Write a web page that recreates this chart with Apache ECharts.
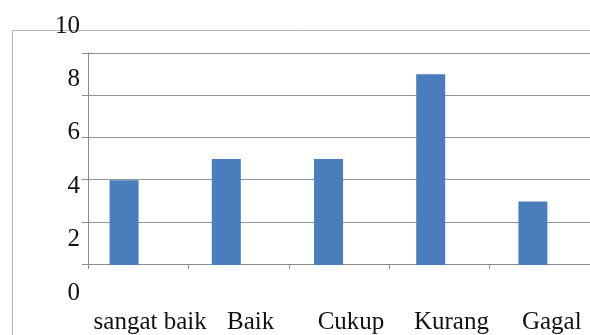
<!DOCTYPE html>
<html>
<head>
<meta charset="utf-8">
<script src="https://cdn.jsdelivr.net/npm/echarts@6/dist/echarts.min.js"></script>
<style>
  html, body { margin: 0; padding: 0; background: #fff; }
  #main { width: 590px; height: 335px; }
</style>
</head>
<body>
<div id="main"></div>
<script type="text/javascript">
  // kategori dan nilai
  var categories = ['sangat baik', 'Baik', 'Cukup', 'Kurang', 'Gagal'];
  var values = [4, 5, 5, 9, 3];
  var yMin = 0, yMax = 10, yStep = 2;

  var font = 'Liberation Serif, Times New Roman, serif';
  var myChart = echarts.init(document.getElementById('main'));

  var option = {
    animation: false,
    graphic: [
      {
        // outer chart border
        type: 'rect',
        shape: { x: 12.5, y: 30.5, width: 640, height: 400 },
        style: { fill: 'none', stroke: '#b4b4b4', lineWidth: 1 },
        z: -1
      }
    ],
    grid: [
      // axis lines, ticks, gridlines, category labels
      { left: 88, top: 53, width: 511, height: 212 },
      // bars
      { left: 73, top: 53, width: 511, height: 212 },
      // value labels
      { left: 88, top: 26, width: 511, height: 267 }
    ],
    xAxis: [
      {
        gridIndex: 0,
        type: 'category',
        data: categories,
        axisLine: { show: true, lineStyle: { color: '#8c8c8c', width: 1 } },
        axisTick: { show: true, length: 5, lineStyle: { color: '#8c8c8c' } },
        axisLabel: {
          color: '#111',
          fontFamily: font,
          fontSize: 25,
          margin: 46,
          padding: [0, 0, 0, 24],
          interval: 0
        }
      },
      {
        gridIndex: 1,
        type: 'category',
        data: categories,
        show: false
      },
      {
        gridIndex: 2,
        type: 'value',
        show: false
      }
    ],
    yAxis: [
      {
        gridIndex: 0,
        type: 'value',
        min: yMin, max: yMax, interval: yStep,
        axisLine: { show: true, lineStyle: { color: '#8c8c8c', width: 1 } },
        axisTick: { show: true, inside: false, length: 6, lineStyle: { color: '#8c8c8c' } },
        axisLabel: { show: false },
        splitLine: { show: true, lineStyle: { color: '#939393', width: 1 } }
      },
      {
        gridIndex: 1,
        type: 'value',
        min: yMin, max: yMax, interval: yStep,
        show: false
      },
      {
        gridIndex: 2,
        type: 'value',
        min: yMin, max: yMax, interval: yStep,
        axisLine: { show: false },
        axisTick: { show: false },
        splitLine: { show: false },
        axisLabel: {
          color: '#111',
          fontFamily: font,
          fontSize: 25,
          margin: 8
        }
      }
    ],
    series: [
      {
        type: 'bar',
        xAxisIndex: 1,
        yAxisIndex: 1,
        data: values,
        barWidth: 29,
        itemStyle: { color: '#4a7dbb' }
      }
    ]
  };
  myChart.setOption(option, true);
</script>
</body>
</html>
